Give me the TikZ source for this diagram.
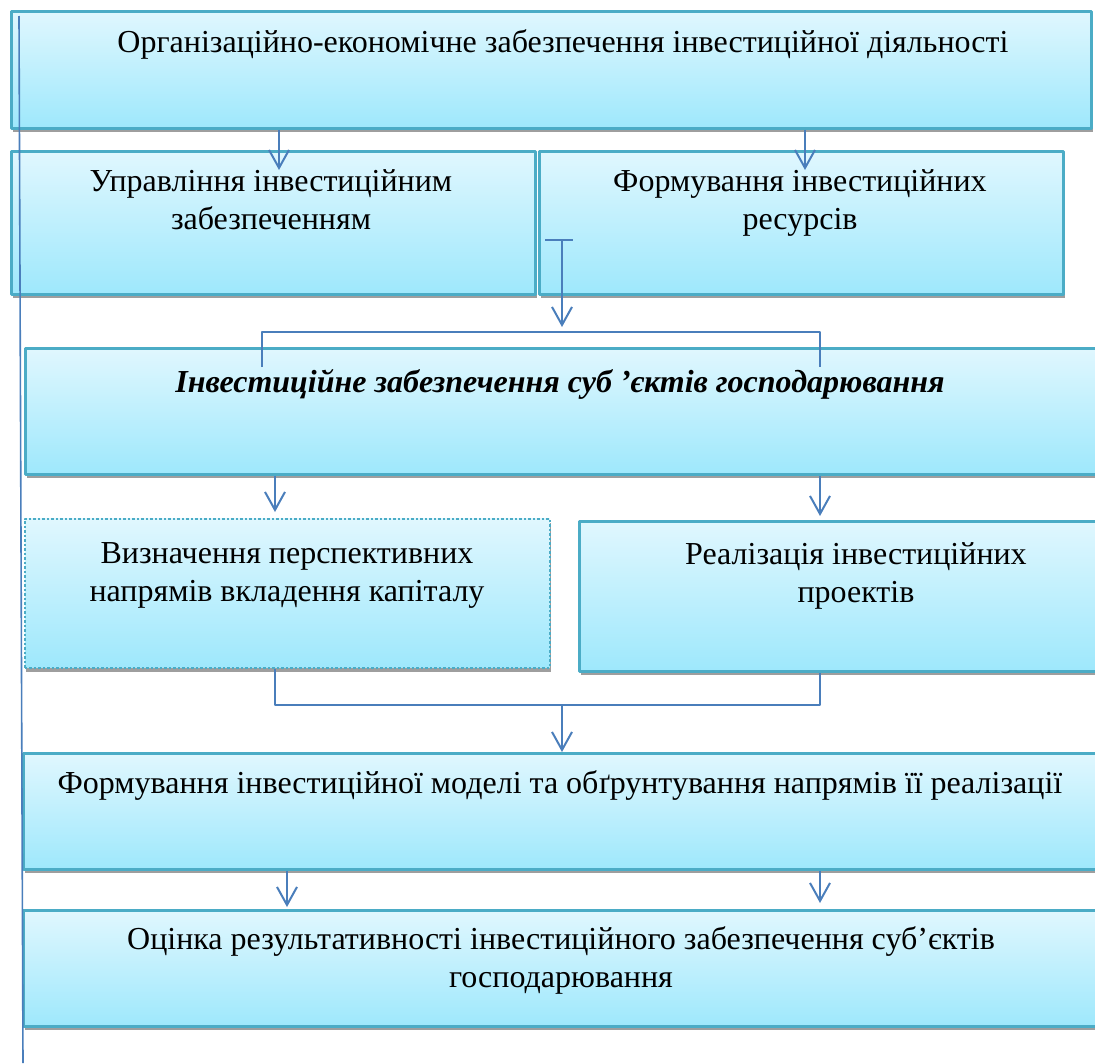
\documentclass[tikz,border=0pt]{standalone}
\usepackage{fontspec}
\setmainfont{Liberation Serif}
\usetikzlibrary{arrows.meta,shadows}
\definecolor{boxtop}{RGB}{224,247,254}
\definecolor{boxbot}{RGB}{158,232,252}
\definecolor{boxline}{RGB}{75,172,198}
\definecolor{arrline}{RGB}{74,126,187}
\begin{document}
\begin{tikzpicture}[x=1pt,y=-1pt,line join=round,
    box/.style={draw=boxline,line width=2.5pt,top color=boxtop,bottom color=boxbot,anchor=north west,inner sep=0pt,
      drop shadow={shadow xshift=1.5pt,shadow yshift=-4pt,fill=black!38,opacity=1}},
    dotbox/.style={box,dotted,line width=1.8pt},
    txt/.style={font=\fontsize{32}{38}\selectfont,align=center,anchor=base,inner sep=0pt},
    conn/.style={draw=arrline,line width=2pt},
    arr/.style={conn,-{Straight Barb[length=18pt,width=20pt,line width=2pt]}}]
    \useasboundingbox (0,0) rectangle (1095,1063);
    \node[box,minimum width=1080pt,minimum height=117pt] (org) at (10,10) {};
    \node[box,minimum width=524pt,minimum height=143pt] (upr) at (10,150) {};
    \node[box,minimum width=524pt,minimum height=143pt] (res) at (538,150) {};
    \node[box,minimum width=1080pt,minimum height=126pt] (inv) at (24,347) {};
    \node[dotbox,minimum width=525pt,minimum height=149pt] (viz) at (24,518) {};
    \node[box,minimum width=525pt,minimum height=150pt] (real) at (578,520) {};
    \node[box,minimum width=1080pt,minimum height=116pt] (model) at (22,752) {};
    \node[box,minimum width=1080pt,minimum height=116pt] (ocin) at (22,909) {};
    \node[txt] (torg) at (563,52) {Організаційно-економічне забезпечення інвестиційної діяльності};
    \node[txt] (tupr) at (271,229) {Управління інвестиційним\\забезпеченням};
    \node[txt] (tres) at (800,229) {Формування інвестиційних\\ресурсів};
    \node[txt,font=\fontsize{32}{38}\selectfont\bfseries\itshape] (tinv) at (560,392) {Інвестиційне забезпечення суб ’єктів господарювання};
    \node[txt] (tviz) at (287,601) {Визначення перспективних\\напрямів вкладення капіталу};
    \node[txt] (treal) at (856,602) {Реалізація інвестиційних\\проектів};
    \node[txt] (tmodel) at (560,793) {Формування інвестиційної моделі та обґрунтування напрямів її реалізації};
    \node[txt] (tocin) at (561,987) {Оцінка результативності інвестиційного забезпечення суб’єктів\\господарювання};
    \coordinate (a1) at (279,170);
    \coordinate (a2) at (805,170);
    \coordinate (tb1) at (545,240);
    \coordinate (tb2) at (573,240);
    \coordinate (tb) at (562,240);
    \coordinate (bk) at (562,327);
    \coordinate (bl) at (262,367);
    \coordinate (br) at (820,367);
    \coordinate (a3) at (275,512);
    \coordinate (a4) at (820,516);
    \coordinate (m1) at (275,705);
    \coordinate (m2) at (820,705);
    \coordinate (mm) at (562,705);
    \coordinate (a5) at (287,907);
    \coordinate (a6) at (820,903);
    \coordinate (vtop) at (19,16);
    \coordinate (vbot) at (23,1063);
    \draw[arr] (org.south -| a1) -- (a1);
    \draw[arr] (org.south -| a2) -- (a2);
    \draw[conn] (tb1) -- (tb2);
    \draw[arr] (tb) -- (bk);
    \draw[conn] (bl) -- ++(0,-35) -| (br);
    \draw[arr] (inv.south -| a3) -- (a3);
    \draw[arr] (inv.south -| a4) -- (a4);
    \draw[conn] (viz.south -| m1) -- (m1) -- (m2) -- (real.south -| m2);
    \draw[arr] (mm) -- (model.north -| mm);
    \draw[arr] (model.south -| a5) -- (a5);
    \draw[arr] (model.south -| a6) -- (a6);
    \draw[conn,line width=1.6pt] (vtop) -- (vbot);
\end{tikzpicture}
\end{document}
